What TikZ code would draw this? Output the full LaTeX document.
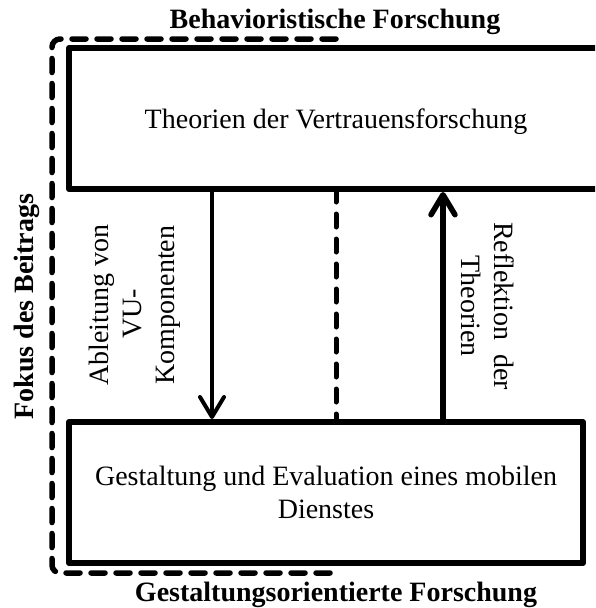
\documentclass[tikz,border=0pt]{standalone}
\usepackage{fontspec}
\setmainfont{Liberation Serif}
\usetikzlibrary{arrows.meta}
\begin{document}
\begin{tikzpicture}[x=1pt,y=-1pt,
  every node/.style={font=\fontsize{28}{33}\selectfont, inner sep=0pt, outer sep=0pt},
  bx/.style={draw, line width=6pt, line join=round},
  ttl/.style={font=\fontsize{28}{33}\selectfont\bfseries},
  fokusdash/.style={line width=5.5pt, dash pattern=on 14pt off 11pt, line cap=round, rounded corners=8pt},
  middash/.style={line width=5pt, dash pattern=on 13pt off 12pt, line cap=round},
  flow/.style={-{Straight Barb[length=20pt,width=24pt,round]}, shorten >=3pt},
]
\useasboundingbox (0,0) rectangle (595,608);
\clip (0,0) rectangle (595,608);
% boxes
\node[bx, minimum width=534pt, minimum height=141pt, text depth=0pt] (theo) at (336,118.5) {Theorien der Vertrauensforschung};
\node[bx, minimum width=514pt, minimum height=141pt, align=center] (gest) at (326,492.5) {Gestaltung und Evaluation eines mobilen\\Dienstes};
% connectors
\coordinate (xdown) at (212,300);
\coordinate (xmid) at (336,300);
\coordinate (xup) at (443,300);
\draw[flow, line width=4pt] (xdown |- theo.south) -- (xdown |- gest.north);
\draw[middash] (xmid |- theo.south) -- (xmid |- gest.north);
\draw[flow, line width=5.5pt] (xup |- gest.north) -- (xup |- theo.south);
% focus frame
\coordinate (ftr) at (336,39);
\coordinate (ftl) at (52,39);
\coordinate (fbl) at (52,573);
\coordinate (fbr) at (336,573);
\draw[fokusdash] (ftr) -- (ftl) -- (fbl) -- (fbr);
% labels
\node[ttl, anchor=base] (beh) at (335,28) {Behavioristische Forschung};
\node[ttl, anchor=base] (gof) at (336,601) {Gestaltungsorientierte Forschung};
\node[ttl, anchor=base, rotate=90] (fok) at (33,306.5) {Fokus des Beitrags};
\node[rotate=90, align=center] (abl) at (134.5,305) {Ableitung von\\VU-\rule{18pt}{0pt}\\Komponenten};
\node[rotate=-90, align=center] (refl) at (488,306) {\makebox[168pt][s]{Reflektion der}\\Theorien};
\end{tikzpicture}
\end{document}
